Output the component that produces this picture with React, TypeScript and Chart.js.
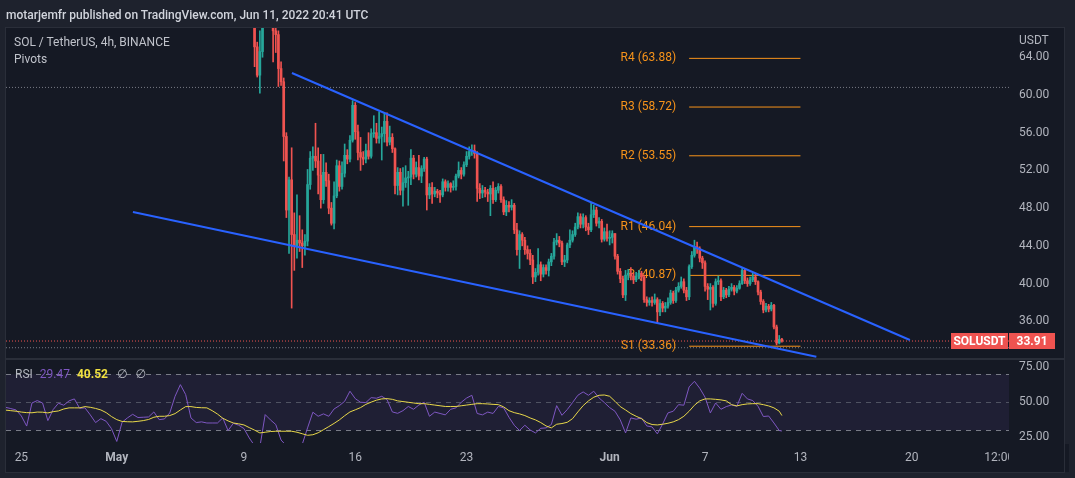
import React, { useEffect, useRef } from 'react';
import { Chart, registerables } from 'chart.js';

Chart.register(...registerables);

// ---------------- data ----------------
// 4h candles, bar 0 = May 9 2022 00:00 UTC. open of each bar = close of previous bar.
const FIRST_OPEN = 76.0;
const closes = [
  74.0, 72.0, 70.5, 68.0, 65.1, 62.1, 64.6, 69.5, 71.5, 72.5,
  68.5, 66.8, 66.4, 62.8, 61.4, 55.6, 47.8, 51.0, 45.2, 44.0,
  44.6, 44.3, 44.0, 44.5, 50.5, 53.3, 53.5, 53.0, 51.5, 48.9,
  51.8, 50.9, 48.0, 46.4, 49.3, 52.5, 50.3, 51.7, 53.6, 53.2,
  55.2, 58.9, 56.1, 53.9, 53.4, 53.2, 54.1, 53.5, 55.9, 56.0,
  55.4, 55.6, 55.9, 57.2, 55.0, 55.5, 54.3, 50.4, 51.8, 49.9,
  50.7, 51.2, 51.3, 53.3, 51.6, 52.3, 51.4, 52.2, 53.2, 49.4,
  50.2, 49.5, 49.8, 49.6, 49.4, 50.8, 50.2, 50.6, 50.2, 50.3,
  51.4, 52.0, 51.6, 52.6, 53.5, 54.0, 54.1, 53.8, 50.1, 49.6,
  49.9, 49.7, 49.5, 50.1, 48.9, 49.9, 50.3, 48.9, 47.6, 48.3,
  48.1, 48.3, 45.7, 43.6, 45.2, 44.6, 43.6, 43.2, 42.5, 40.7,
  41.2, 42.0, 41.0, 41.7, 41.4, 42.3, 42.9, 44.4, 44.6, 44.3,
  42.3, 42.5, 44.1, 44.6, 45.2, 46.0, 47.1, 46.3, 47.0, 46.0,
  45.7, 47.3, 47.8, 46.4, 46.6, 44.7, 45.5, 44.8, 44.9, 45.3,
  42.9, 41.3, 40.5, 38.8, 40.9, 41.1, 40.8, 40.4, 40.8, 41.1,
  40.7, 38.3, 38.0, 38.2, 38.0, 38.3, 37.0, 37.9, 37.4, 37.6,
  38.0, 39.0, 38.2, 39.3, 39.7, 40.2, 39.3, 38.6, 41.8, 43.0,
  43.9, 43.7, 42.7, 42.2, 39.7, 39.4, 39.6, 37.9, 40.2, 40.3,
  38.6, 39.3, 38.8, 39.4, 39.6, 39.2, 39.5, 40.0, 41.4, 40.3,
  40.0, 40.4, 40.7, 40.2, 39.1, 38.1, 37.2, 37.6, 37.3, 37.7,
  35.4, 33.7, 34.1, 33.91,
];
const highs = [
  77.0, 75.0, 73.0, 71.0, 68.5, 65.6, 66.8, 71.0, 73.0, 74.0,
  73.0, 69.5, 67.5, 66.8, 63.5, 61.8, 56.0, 51.3, 54.4, 47.5,
  49.4, 47.2, 45.7, 45.2, 52.1, 54.0, 54.5, 57.0, 54.4, 53.7,
  53.7, 52.8, 51.6, 48.6, 50.8, 53.1, 53.0, 52.9, 54.8, 54.2,
  55.7, 59.4, 59.2, 56.8, 55.5, 54.0, 54.8, 56.0, 56.4, 57.8,
  57.0, 58.2, 56.6, 58.1, 58.1, 56.7, 55.9, 54.4, 52.3, 52.2,
  52.3, 52.5, 51.9, 54.2, 53.6, 52.9, 53.6, 52.5, 53.4, 53.4,
  50.6, 50.7, 50.2, 50.0, 49.9, 51.1, 51.0, 50.9, 50.7, 50.9,
  51.6, 52.9, 52.3, 52.9, 54.0, 54.5, 54.7, 54.7, 54.0, 50.6,
  50.4, 50.2, 50.0, 50.4, 50.8, 50.2, 50.6, 50.5, 49.2, 48.8,
  48.7, 48.9, 48.5, 46.4, 45.6, 45.4, 44.9, 44.0, 43.6, 43.0,
  41.6, 43.7, 42.3, 42.0, 42.0, 42.6, 43.2, 44.8, 45.3, 45.0,
  44.5, 43.0, 44.3, 45.7, 45.6, 46.4, 47.5, 47.4, 47.4, 47.2,
  46.4, 48.5, 48.3, 48.1, 47.0, 46.8, 45.9, 46.3, 45.6, 45.6,
  45.3, 43.1, 41.6, 40.8, 41.4, 41.5, 41.7, 41.1, 41.2, 41.4,
  41.3, 40.9, 38.6, 38.5, 38.6, 38.9, 38.5, 38.3, 38.1, 38.0,
  38.5, 39.3, 39.2, 39.6, 40.1, 40.7, 40.5, 39.6, 42.0, 43.4,
  44.6, 44.4, 43.9, 42.9, 42.4, 40.0, 40.0, 39.8, 40.5, 40.8,
  40.5, 39.6, 39.5, 39.7, 40.0, 39.8, 39.8, 40.3, 41.7, 41.6,
  40.6, 40.7, 41.1, 41.0, 40.3, 39.3, 38.3, 37.9, 37.8, 38.0,
  37.8, 35.6, 34.5, 34.2,
];
const lows = [
  73.0, 71.0, 69.0, 67.5, 63.0, 61.9, 60.2, 64.0, 69.0, 70.5,
  67.5, 63.5, 64.5, 60.9, 61.0, 53.0, 47.0, 43.2, 37.4, 41.4,
  42.7, 43.4, 41.7, 43.0, 44.0, 50.0, 52.0, 52.3, 49.5, 48.0,
  48.5, 50.3, 47.4, 46.2, 45.8, 49.1, 49.8, 50.0, 51.3, 52.7,
  52.9, 55.0, 55.3, 53.1, 52.0, 52.6, 52.8, 53.2, 53.3, 55.5,
  54.9, 54.9, 53.1, 55.0, 54.6, 54.7, 53.9, 49.5, 49.4, 49.4,
  48.2, 50.2, 48.3, 50.5, 51.1, 51.3, 51.0, 50.7, 51.9, 47.8,
  49.0, 48.5, 49.2, 49.1, 48.6, 49.2, 49.8, 49.8, 49.7, 49.9,
  49.9, 51.2, 51.1, 51.4, 52.4, 53.2, 53.6, 53.3, 48.7, 49.0,
  49.1, 49.2, 48.7, 47.2, 48.5, 48.7, 49.6, 48.6, 47.3, 47.2,
  47.6, 47.8, 45.3, 43.0, 41.6, 44.0, 43.1, 42.6, 42.0, 40.0,
  40.2, 40.9, 40.3, 40.7, 41.0, 40.8, 41.9, 42.6, 44.1, 43.9,
  42.0, 41.8, 42.2, 43.8, 44.4, 45.0, 45.8, 45.9, 45.9, 45.6,
  45.2, 45.5, 47.0, 46.1, 45.9, 44.4, 44.5, 44.5, 44.1, 44.3,
  42.6, 41.0, 40.1, 38.5, 38.2, 40.4, 40.4, 40.0, 40.2, 40.5,
  40.3, 38.0, 37.6, 37.7, 37.6, 37.8, 35.8, 36.6, 37.0, 37.0,
  37.4, 37.8, 37.9, 38.0, 39.1, 39.5, 39.0, 38.2, 38.3, 41.6,
  42.8, 43.2, 42.3, 41.6, 39.2, 38.3, 37.2, 37.5, 37.7, 39.9,
  38.2, 38.4, 38.5, 38.6, 39.2, 38.8, 39.0, 39.4, 39.9, 40.0,
  39.7, 39.8, 40.2, 39.9, 38.8, 37.8, 36.9, 37.0, 37.0, 37.1,
  35.2, 33.5, 33.6, 33.8,
];

// RSI (14) and its MA, sampled every 2 bars (8h) from bar -90 (Apr 24 00:00); last value = bar 203
const RSI_FIRST_BAR = -90;
const RSI_STEP = 2;
const RSI_LAST_BAR = 203;
const rsiValues = [
  46.4, 45.5, 44.5, 40.2, 33.0, 49.5, 51.2, 49.5, 36.9, 44.8,
  49.3, 47.9, 51.0, 52.4, 45.7, 46.0, 41.0, 35.5, 38.3, 36.4,
  31.2, 22.0, 35.7, 38.8, 41.4, 39.1, 39.3, 39.5, 43.1, 37.6,
  38.1, 42.4, 54.3, 62.6, 55.5, 38.8, 35.5, 36.0, 35.2, 35.2,
  35.2, 38.8, 29.8, 35.0, 33.6, 31.2, 24.5, 19.0, 18.0, 41.2,
  37.4, 34.1, 23.0, 19.0, 17.0, 18.0, 20.0, 31.7, 42.9, 40.0,
  41.7, 40.0, 45.2, 47.6, 50.7, 57.9, 52.6, 50.0, 49.8, 53.3,
  52.9, 54.3, 51.9, 43.1, 42.1, 44.0, 47.0, 45.0, 48.0, 50.0,
  40.0, 43.0, 42.0, 41.0, 45.0, 46.0, 50.0, 53.0, 55.0, 42.0,
  41.0, 43.0, 42.0, 47.0, 46.0, 39.3, 33.6, 29.8, 33.6, 30.2,
  28.1, 31.4, 31.7, 34.1, 47.6, 40.7, 44.8, 49.8, 55.0, 57.4,
  55.0, 57.9, 53.1, 49.8, 46.2, 43.6, 37.4, 28.1, 38.8, 37.9,
  38.8, 33.1, 32.4, 27.4, 34.5, 42.4, 43.6, 48.3, 47.9, 61.0,
  65.0, 60.0, 53.6, 42.4, 49.5, 45.0, 46.9, 48.1, 47.1, 56.4,
  52.4, 51.2, 47.1, 39.8, 40.2, 35.2, 29.8, 29.47,
];
const rsiMaValues = [
  44.4, 44.0, 43.6, 43.0, 42.6, 42.5, 43.0, 42.9, 42.4, 43.3,
  43.8, 45.2, 46.0, 46.0, 46.0, 46.9, 46.4, 45.6, 44.5, 42.6,
  39.8, 37.6, 36.3, 36.1, 36.0, 36.4, 36.9, 37.7, 39.3, 40.0,
  40.0, 40.5, 41.9, 44.5, 46.9, 46.9, 46.3, 46.1, 46.0, 44.0,
  41.6, 38.6, 36.7, 35.2, 34.6, 33.8, 31.9, 30.1, 28.1, 28.6,
  29.1, 29.3, 29.3, 29.3, 29.3, 28.6, 27.5, 26.4, 26.8, 28.2,
  30.4, 32.6, 34.9, 37.4, 40.4, 43.1, 44.6, 46.2, 48.5, 50.1,
  51.5, 52.4, 52.6, 52.1, 51.0, 50.5, 50.0, 49.5, 49.0, 49.0,
  48.5, 48.0, 47.5, 47.0, 47.0, 47.0, 47.5, 48.0, 48.5, 49.0,
  49.0, 48.8, 48.5, 48.3, 46.7, 44.0, 42.6, 41.7, 40.5, 38.8,
  37.4, 35.5, 33.1, 31.7, 34.3, 34.8, 35.7, 38.3, 43.1, 47.6,
  51.0, 53.6, 55.0, 55.2, 54.3, 50.7, 46.9, 44.5, 41.9, 40.0,
  38.3, 35.5, 34.1, 33.8, 34.3, 35.0, 36.0, 37.6, 40.0, 43.6,
  47.9, 51.0, 52.4, 52.4, 52.1, 51.7, 51.0, 48.3, 47.4, 48.3,
  48.8, 49.0, 49.0, 48.3, 47.4, 46.0, 43.6, 40.52,
];

// weekly pivots (Jun 6 .. Jun 13)
const pivotNames = ['R4', 'R3', 'R2', 'R1', 'P', 'S1'];
const pivotValues = [63.88, 58.72, 53.55, 46.04, 40.87, 33.36];
const PIVOT_FROM_BAR = 168;
const PIVOT_TO_BAR = 210;

// drawn trend lines (bar, price)
const upperTrendBars = [18.1, 251.3];
const upperTrendPrices = [62.33, 34.02];
const lowerTrendBars = [-41.9, 216];
const lowerTrendPrices = [47.59, 32.24];

const LAST_PRICE = 33.91;
const greyLevels = [60.8, 33.2];

const priceTicks = [64, 60, 56, 52, 48, 44, 40, 36];
const rsiTicks = [75, 50, 25];
const rsiBands = [70, 50, 30];
const timeTickBars = [-84, -48, 0, 42, 84, 138, 174, 210, 252, 285];
const timeTickLabels = ['25', 'May', '9', '16', '23', 'Jun', '7', '13', '20', '12:00'];
const monthLabels = ['May', 'Jun'];

// view window
const X_MIN = -89.8;
const X_MAX = 288.7;
const PRICE_MIN = 32.11;
const PRICE_MAX = 67.1;
const RSI_MIN = 20.9;
const RSI_MAX = 80.2;

// ---------------- style ----------------
const FONT = 'Roboto, "Noto Sans", "DejaVu Sans", sans-serif';
const OUTER_BG = '#1e222d';
const INNER_BG = '#151924';
const FRAME = '#2a2e39';
const AXIS_TEXT = '#b2b5be';
const UP = '#26a69a';
const DOWN = '#ef5350';
const TREND = '#2962ff';
const PIVOT = '#f7931a';
const RSI_COLOR = '#7e57c2';
const RSI_MA_COLOR = '#e8d84a';

const opens = closes.map((c, i) => (i === 0 ? FIRST_OPEN : closes[i - 1]));
const candleColor = (i: number) => (closes[i] >= opens[i] ? UP : DOWN);
const hLine = (v: number) => [{ x: X_MIN, y: v }, { x: X_MAX, y: v }];
const rsiBar = (i: number, n: number) => (i === n - 1 ? RSI_LAST_BAR : RSI_FIRST_BAR + i * RSI_STEP);

const lineDs = (data: any[], color: string, width: number, dash: number[] = []) => ({
  type: 'line',
  data,
  borderColor: color,
  borderWidth: width,
  borderDash: dash,
  pointRadius: 0,
  tension: 0,
  fill: false,
});

const noPad = (s: any) => {
  s.paddingTop = 0;
  s.paddingBottom = 0;
  s.paddingLeft = 0;
  s.paddingRight = 0;
};

const pivotPlugin = {
  id: 'pivotLabels',
  beforeDatasetsDraw(chart: any) {
    const { ctx, scales } = chart;
    ctx.save();
    ctx.font = `12px ${FONT}`;
    ctx.fillStyle = PIVOT;
    ctx.textAlign = 'right';
    ctx.textBaseline = 'middle';
    const px = scales.x.getPixelForValue(PIVOT_FROM_BAR) - 13;
    pivotNames.forEach((n, i) => {
      ctx.fillText(`${n} (${pivotValues[i].toFixed(2)})`, px, scales.y.getPixelForValue(pivotValues[i]));
    });
    ctx.restore();
  },
  afterDraw(chart: any) {
    const { ctx, scales, chartArea } = chart;
    const y = Math.round(scales.y.getPixelForValue(LAST_PRICE));
    const r = chartArea.right;
    ctx.save();
    ctx.fillStyle = DOWN;
    ctx.fillRect(r - 58, y - 8, 57, 16);
    ctx.fillRect(r + 0, y - 8, 46, 16);
    ctx.fillStyle = '#ffffff';
    ctx.font = `bold 12px ${FONT}`;
    ctx.textAlign = 'center';
    ctx.textBaseline = 'middle';
    ctx.fillText('SOLUSDT', r - 29.5, y + 0.5);
    ctx.fillText(LAST_PRICE.toFixed(2), r + 23, y + 0.5);
    ctx.restore();
  },
};

const rsiPlugin = {
  id: 'rsiBands',
  beforeDatasetsDraw(chart: any) {
    const { ctx, chartArea, scales } = chart;
    const { left, right } = chartArea;
    ctx.save();
    const yTop = scales.y.getPixelForValue(rsiBands[0]);
    const yBot = scales.y.getPixelForValue(rsiBands[2]);
    ctx.fillStyle = 'rgba(126, 87, 194, 0.1)';
    ctx.fillRect(left, yTop, right - left, yBot - yTop);
    ctx.setLineDash([5, 5]);
    ctx.lineWidth = 1;
    rsiBands.forEach((v, i) => {
      const py = Math.round(scales.y.getPixelForValue(v)) + 0.5;
      ctx.strokeStyle = i === 1 ? 'rgba(120,123,134,0.55)' : '#787b86';
      ctx.beginPath();
      ctx.moveTo(left, py);
      ctx.lineTo(right, py);
      ctx.stroke();
    });
    ctx.restore();
  },
  afterDraw(chart: any) {
    // time labels are clipped at the price-scale edge
    const { ctx, chartArea } = chart;
    ctx.save();
    ctx.fillStyle = INNER_BG;
    ctx.fillRect(chartArea.right, chartArea.bottom + 1, 60, 28);
    ctx.restore();
  },
};

export default function App() {
  const refA = useRef<HTMLCanvasElement>(null);
  const refB = useRef<HTMLCanvasElement>(null);

  useEffect(() => {
    const wickData = closes.map((_, i) => ({ x: i, y: [lows[i], highs[i]] }));
    const bodyData = closes.map((c, i) => ({ x: i, y: [opens[i], c] }));

    const priceChart = new Chart(refA.current as any, {
      type: 'bar',
      data: {
        datasets: [
          lineDs(upperTrendBars.map((x, i) => ({ x, y: upperTrendPrices[i] })), TREND, 2),
          lineDs(lowerTrendBars.map((x, i) => ({ x, y: lowerTrendPrices[i] })), TREND, 2),
          {
            type: 'bar',
            data: bodyData,
            backgroundColor: (c: any) => candleColor(c.dataIndex),
            barThickness: 2,
            minBarLength: 1,
            grouped: false,
            borderWidth: 0,
          },
          {
            type: 'bar',
            data: wickData,
            backgroundColor: (c: any) => candleColor(c.dataIndex),
            barThickness: 1,
            grouped: false,
            borderWidth: 0,
          },
          ...pivotValues.map((v) =>
            lineDs([{ x: PIVOT_FROM_BAR, y: v }, { x: PIVOT_TO_BAR, y: v }], PIVOT, 1)
          ),
          lineDs(hLine(LAST_PRICE), DOWN, 1, [1, 2]),
          ...greyLevels.map((v) => lineDs(hLine(v), '#787b86', 1, [1, 2])),
        ] as any,
      },
      options: {
        responsive: false,
        animation: false,
        devicePixelRatio: 1,
        events: [],
        layout: { padding: { left: 6, top: 28, right: 0, bottom: 1 } },
        plugins: { legend: { display: false }, tooltip: { enabled: false } },
        scales: {
          x: { type: 'linear', min: X_MIN, max: X_MAX, display: false, offset: false, afterFit: noPad },
          y: {
            position: 'right',
            min: PRICE_MIN,
            max: PRICE_MAX,
            grid: { display: false, drawTicks: false },
            border: { display: false },
            ticks: {
              color: AXIS_TEXT,
              font: { family: FONT, size: 12 },
              padding: 10,
              callback: (v: any) => Number(v).toFixed(2),
            },
            afterBuildTicks: (s: any) => {
              s.ticks = priceTicks.map((v) => ({ value: v }));
            },
            afterFit: (s: any) => {
              s.width = 66;
              noPad(s);
            },
          },
        },
      } as any,
      plugins: [pivotPlugin],
    });

    const n = rsiValues.length;
    const rsiChart = new Chart(refB.current as any, {
      type: 'line',
      data: {
        datasets: [
          lineDs(rsiMaValues.map((v, i) => ({ x: rsiBar(i, rsiMaValues.length), y: v })), RSI_MA_COLOR, 1),
          lineDs(rsiValues.map((v, i) => ({ x: rsiBar(i, n), y: v })), RSI_COLOR, 1),
        ] as any,
      },
      options: {
        responsive: false,
        animation: false,
        devicePixelRatio: 1,
        events: [],
        layout: { padding: { left: 6, top: 1, right: 0, bottom: 0 } },
        plugins: { legend: { display: false }, tooltip: { enabled: false } },
        scales: {
          x: {
            type: 'linear',
            min: X_MIN,
            max: X_MAX,
            offset: false,
            grid: { display: false, drawTicks: false },
            border: { display: false },
            ticks: {
              autoSkip: false,
              maxRotation: 0,
              color: AXIS_TEXT,
              padding: 8,
              font: (c: any) => ({
                family: FONT,
                size: 12,
                weight: monthLabels.includes(timeTickLabels[c.index]) ? 'bold' : 'normal',
              }),
              callback: (_v: any, i: number) => timeTickLabels[i],
            },
            afterBuildTicks: (s: any) => {
              s.ticks = timeTickBars.map((v) => ({ value: v }));
            },
            afterFit: (s: any) => {
              s.height = 35;
              noPad(s);
            },
          },
          y: {
            position: 'right',
            min: RSI_MIN,
            max: RSI_MAX,
            grid: { display: false, drawTicks: false },
            border: { display: false },
            ticks: {
              color: AXIS_TEXT,
              font: { family: FONT, size: 12 },
              padding: 10,
              callback: (v: any) => Number(v).toFixed(2),
            },
            afterBuildTicks: (s: any) => {
              s.ticks = rsiTicks.map((v) => ({ value: v }));
            },
            afterFit: (s: any) => {
              s.width = 66;
              noPad(s);
            },
          },
        },
      } as any,
      plugins: [rsiPlugin],
    });

    return () => {
      priceChart.destroy();
      rsiChart.destroy();
    };
  }, []);

  const abs = (o: any) => ({ position: 'absolute', ...o });
  const txt = { fontFamily: FONT, whiteSpace: 'nowrap', lineHeight: '14px' };

  return (
    <div style={{ position: 'fixed', left: 0, top: 0, width: 1075, height: 478, background: OUTER_BG, overflow: 'hidden' }}>
      <div style={abs({ left: 5, top: 27, width: 1058, height: 444, background: INNER_BG, border: `1px solid ${FRAME}` })} />
      <canvas ref={refA} width={1075} height={359} style={abs({ left: 0, top: 0, width: 1075, height: 359 })} />
      <canvas ref={refB} width={1075} height={119} style={abs({ left: 0, top: 359, width: 1075, height: 119 })} />
      <div style={abs({ left: 6, top: 358, width: 1058, height: 2, background: FRAME })} />
      <div style={abs({ left: 1064, top: 27, width: 1, height: 446, background: FRAME })} />
      <div style={abs({ left: 5, top: 472, width: 1060, height: 1, background: FRAME })} />

      <div style={abs({ ...txt, left: 6, top: 8, fontSize: 12, fontWeight: 500, color: '#d1d4dc' })}>
        motarjemfr published on TradingView.com, Jun 11, 2022 20:41 UTC
      </div>
      <div style={abs({ ...txt, left: 14, top: 35, fontSize: 12, color: '#c0c3cb' })}>SOL / TetherUS, 4h, BINANCE</div>
      <div style={abs({ ...txt, left: 14, top: 52, fontSize: 12, color: '#c0c3cb' })}>Pivots</div>
      <div style={abs({ ...txt, left: 1019, top: 33, fontSize: 12, color: AXIS_TEXT })}>USDT</div>
      <div style={abs({ ...txt, left: 15, top: 367, fontSize: 12, color: AXIS_TEXT })}>
        <span>RSI</span>
        <span style={{ marginLeft: 7, color: RSI_COLOR }}>29.47</span>
        <span style={{ marginLeft: 7, color: '#f0e040', fontWeight: 'bold' }}>40.52</span>
        <span style={{ marginLeft: 9 }}>∅</span>
        <span style={{ marginLeft: 8 }}>∅</span>
      </div>
    </div>
  );
}
